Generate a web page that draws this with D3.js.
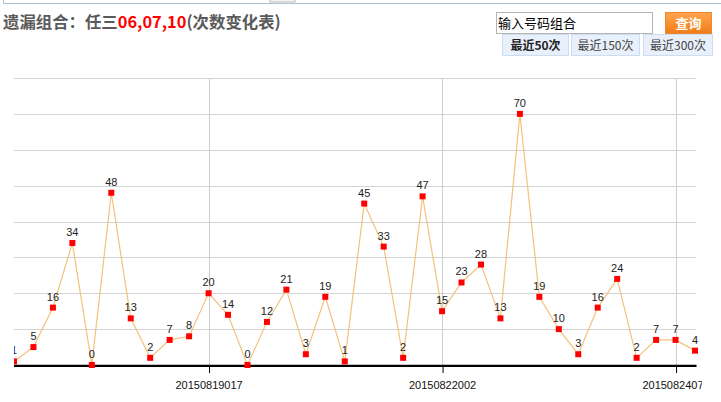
<!DOCTYPE html>
<html>
<head>
<meta charset="utf-8">
<script src="https://cdn.jsdelivr.net/npm/d3@7/dist/d3.min.js"></script>
<style>
  html, body { margin: 0; padding: 0; background: #fff; }
  svg { display: block; }
</style>
</head>
<body>
<svg id="chart" width="721" height="402"></svg>
<script>
// ---- data ----
const values = [1,5,16,34,0,48,13,2,7,8,20,14,0,12,21,3,19,1,45,33,2,47,15,23,28,13,70,19,10,3,16,24,2,7,7,4];
const tickIndices = [10, 22, 34];
const tickLabels = ["20150819017", "20150822002", "20150824070"];
const yTicks = [10, 20, 30, 40, 50, 60, 70, 80];
const titleParts = [
  { text: "遗漏组合：任三", color: "#5a5a5a" },
  { text: "06,07,10", color: "#ff0000" },
  { text: "(次数变化表)", color: "#5a5a5a" }
];
const rangeButtons = ["最近50次", "最近150次", "最近300次"];

(function () {
const svg = d3.select("#chart");
const cjk = "'Noto Sans CJK SC', 'Noto Sans', sans-serif";
const latin = "'Liberation Sans', Arial, sans-serif";

// top frame line
svg.append("line").attr("x1", 3).attr("x2", 721).attr("y1", 3.5).attr("y2", 3.5)
  .attr("stroke", "#a9c2d8").attr("stroke-width", 1);
svg.append("line").attr("x1", 3.5).attr("x2", 3.5).attr("y1", 0).attr("y2", 4)
  .attr("stroke", "#a9c2d8").attr("stroke-width", 1);
svg.append("rect").attr("x", 270).attr("y", -1).attr("width", 25).attr("height", 3)
  .attr("fill", "#f4f4f4").attr("stroke", "#bbb");

// title
const title = svg.append("text").attr("x", 3).attr("y", 28)
  .attr("font-family", cjk).attr("font-size", 16.4).attr("font-weight", "bold");
titleParts.forEach(p => title.append("tspan").attr("fill", p.color).text(p.text));

// search input
svg.append("rect").attr("x", 496.5).attr("y", 12.5).attr("width", 156).attr("height", 21)
  .attr("fill", "#fff").attr("stroke", "#b5b5b5");
svg.append("text").attr("x", 498).attr("y", 28).attr("font-family", cjk).attr("font-size", 13)
  .attr("fill", "#000").text("输入号码组合");

// query button
const defs = svg.append("defs");
const grad = defs.append("linearGradient").attr("id", "btnGrad").attr("x1", 0).attr("y1", 0).attr("x2", 0).attr("y2", 1);
grad.append("stop").attr("offset", "0%").attr("stop-color", "#ffa54f");
grad.append("stop").attr("offset", "100%").attr("stop-color", "#f27c16");
svg.append("rect").attr("x", 665.5).attr("y", 12.5).attr("width", 46).attr("height", 21)
  .attr("fill", "url(#btnGrad)").attr("stroke", "#e98a36");
svg.append("text").attr("x", 688.5).attr("y", 28).attr("text-anchor", "middle")
  .attr("font-family", cjk).attr("font-size", 13).attr("font-weight", "bold")
  .attr("fill", "#fff").text("查询");

// range buttons
const btnX = [502, 571, 643];
const btnW = [66, 68, 69];
rangeButtons.forEach((t, i) => {
  svg.append("rect").attr("x", btnX[i] + 0.5).attr("y", 34.5).attr("width", btnW[i]).attr("height", 21)
    .attr("fill", "#e8f0fb").attr("stroke", "#cddcf0");
  svg.append("text").attr("x", btnX[i] + btnW[i] / 2 + 0.5).attr("y", 50).attr("text-anchor", "middle")
    .attr("font-family", cjk).attr("font-size", 12)
    .attr("font-weight", i === 0 ? "bold" : "normal")
    .attr("fill", i === 0 ? "#222" : "#444").text(t);
});

// ---- chart ----
const pLeft = 14, pRight = 695, pTop = 78, pBottom = 365;
const x = d3.scaleLinear().domain([0, values.length - 1]).range([pLeft, pRight]);
const y = d3.scaleLinear().domain([0, 80]).range([pBottom, pTop]);

defs.append("clipPath").attr("id", "plotClip").append("rect")
  .attr("x", pLeft).attr("y", 0).attr("width", 702 - pLeft).attr("height", 402);

const g = svg.append("g").attr("clip-path", "url(#plotClip)");

// horizontal gridlines
g.append("g").selectAll("line").data(yTicks).join("line")
  .attr("x1", pLeft).attr("x2", pRight + 1)
  .attr("y1", d => Math.round(y(d)) + 0.5).attr("y2", d => Math.round(y(d)) + 0.5)
  .attr("stroke", "#d4d4d4").attr("stroke-width", 1);

// vertical gridlines
g.append("g").selectAll("line").data(tickIndices).join("line")
  .attr("x1", d => Math.round(x(d)) + 0.5).attr("x2", d => Math.round(x(d)) + 0.5)
  .attr("y1", y(80)).attr("y2", pBottom)
  .attr("stroke", "#cfcfcf").attr("stroke-width", 1);

// x axis
const xAxis = d3.axisBottom(x)
  .tickValues(tickIndices)
  .tickFormat((d, i) => tickLabels[i])
  .tickSize(8).tickPadding(8);
const ax = g.append("g").attr("transform", `translate(0,${pBottom})`).call(xAxis);
ax.select(".domain").remove();
ax.selectAll(".tick line").attr("stroke", "#000").attr("transform", "translate(0.5,0)");
ax.selectAll(".tick text").attr("font-family", latin).attr("font-size", 11).attr("fill", "#111");
g.append("line").attr("x1", pLeft).attr("x2", pRight + 1.5).attr("y1", pBottom + 0.8).attr("y2", pBottom + 0.8)
  .attr("stroke", "#000").attr("stroke-width", 2.2);

// line
g.append("path").datum(values)
  .attr("d", d3.line().x((d, i) => x(i)).y(d => y(d)))
  .attr("fill", "none").attr("stroke", "#f3c27c").attr("stroke-width", 1.2);

// markers
g.append("g").selectAll("rect").data(values).join("rect")
  .attr("x", (d, i) => x(i) - 3).attr("y", d => y(d) - 3)
  .attr("width", 6).attr("height", 6).attr("fill", "#ff0000");

// value labels
g.append("g").selectAll("text").data(values).join("text")
  .attr("x", (d, i) => x(i)).attr("y", d => y(d) - 7)
  .attr("text-anchor", "middle").attr("font-family", latin).attr("font-size", 11)
  .attr("fill", "#222").text(d => d);
})();
</script>
</body>
</html>
